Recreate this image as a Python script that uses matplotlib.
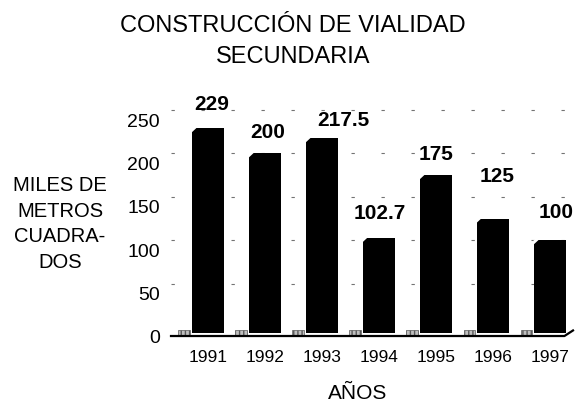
##Vialidad secundaria chart

#PACKAGES

import matplotlib
matplotlib.use('Agg')
import matplotlib.pyplot as plt
import matplotlib.transforms as mtransforms
from matplotlib.patches import Polygon, Rectangle

#DATA

years = ['1991', '1992', '1993', '1994', '1995', '1996', '1997']
values = [229, 200, 217.5, 102.7, 175, 125, 100]
value_labels = ['229', '200', '217.5', '102.7', '175', '125', '100']
y_ticks = [0, 50, 100, 150, 200, 250]

title_lines = ['CONSTRUCCIÓN DE VIALIDAD', 'SECUNDARIA']
y_title = 'MILES DE\nMETROS\nCUADRA-\nDOS'
x_title = 'AÑOS'

# where each value label sits relative to its bar top, in pixels (dx, dy)
label_shift = [(4, 24), (3, 21), (21, 18), (1, 24), (0, 21), (4, 42), (6, 28)]

#CHART

plt.rcParams['font.family'] = ['Liberation Sans', 'DejaVu Sans']

W, H = 585, 411
fig = plt.figure(figsize=(W / 100, H / 100), dpi=100)
ax = fig.add_axes([171 / W, (H - 337.4) / H, 402 / W, 237.8 / H])

floor = -7  # 3d floor sits a bit under zero
x = list(range(len(years)))
bars = ax.bar(x, [v - floor for v in values], bottom=floor, width=0.56,
              color='black', zorder=3)

# little bevel on the top-left corner + grey floor shading
for rect in bars:
    x0 = rect.get_x()
    top = rect.get_y() + rect.get_height()
    ax.add_patch(Polygon([(x0 - 0.01, top + 0.5), (x0 + 0.08, top + 0.5), (x0 - 0.01, top - 5)],
                         closed=True, facecolor='white', edgecolor='none', zorder=4))
    ax.add_patch(Rectangle((x0 - 0.24, floor - 3), 0.2, 6, facecolor='0.75',
                           edgecolor='0.35', hatch='||||', lw=0.5, zorder=2))

for t in y_ticks[1:]:
    ax.axhline(t, ls=(0, (3, 24)), color='0.45', lw=0.8, zorder=1)

# base line with the little slant at the right end
ax.plot([-0.65, 6.25, 6.4], [-10.4, -10.4, -4], color='black', lw=1.6,
        clip_on=False, zorder=5)

for xi, v, lbl, (dx, dy) in zip(x, values, value_labels, label_shift):
    ax.annotate(lbl, (xi, v), xytext=(dx * 0.72, dy * 0.72), textcoords='offset points',
                ha='center', va='center', fontsize=15, fontweight='bold')

ax.set_xlim(-0.65, 6.4)
ax.set_ylim(-12, 262)
ax.set_xticks(x)
ax.set_xticklabels(years, fontsize=12.5)
ax.set_yticks(y_ticks)
ax.set_yticklabels([str(t) for t in y_ticks], fontsize=14)
ax.tick_params(axis='x', length=0, pad=9)
ax.tick_params(axis='y', length=0, pad=8)
for s in ax.spines.values():
    s.set_visible(False)

shift = mtransforms.ScaledTranslation(0, -0.10, fig.dpi_scale_trans)
for lab in ax.get_yticklabels():
    lab.set_transform(lab.get_transform() + shift)

fig.text(293 / W, 1 - 26 / H, title_lines[0], ha='center', va='center', fontsize=17)
fig.text(293 / W, 1 - 57 / H, title_lines[1], ha='center', va='center', fontsize=17)
fig.text(60 / W, 1 - 224 / H, y_title, ha='center', va='center', multialignment='center',
         fontsize=14.5, linespacing=1.45)
fig.text(358 / W, 1 - 393 / H, x_title, ha='center', va='center', fontsize=15)

fig.savefig('out.png', dpi=100)
